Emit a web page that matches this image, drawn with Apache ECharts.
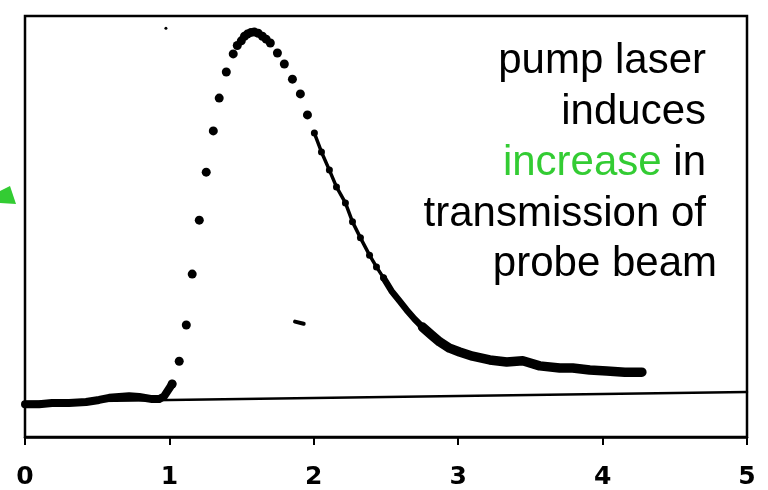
<!DOCTYPE html>
<html>
<head>
<meta charset="utf-8">
<script src="https://cdn.jsdelivr.net/npm/echarts@6/dist/echarts.min.js"></script>
<style>
  html, body { margin: 0; padding: 0; background: #fff; }
  #chart { width: 768px; height: 490px; }
</style>
</head>
<body>
<div id="chart"></div>
<script>
// delay axis ticks
const xTicks = [0, 1, 2, 3, 4, 5];

// probe signal before the pump arrives
const baseX = [0, 0.097, 0.187, 0.305, 0.423, 0.513, 0.583, 0.652, 0.721, 0.791, 0.881, 0.929, 0.964, 1.019];
const baseY = [7.8, 7.8, 8.1, 8.1, 8.3, 8.8, 9.3, 9.5, 9.7, 9.5, 9.0, 9.0, 9.7, 12.6];

// sampled points through the rise and the peak
const dotX = [1.019, 1.068, 1.117, 1.158, 1.207, 1.255, 1.304, 1.345, 1.394, 1.442, 1.470, 1.498, 1.520, 1.540, 1.565, 1.588, 1.615, 1.644, 1.670, 1.699, 1.748, 1.796, 1.852, 1.907, 1.956];
const dotY = [12.6, 18.0, 26.6, 38.7, 51.5, 62.9, 72.7, 80.5, 86.7, 91.0, 93.0, 94.1, 95.2, 95.7, 96.1, 96.2, 95.9, 95.2, 94.5, 93.6, 91.2, 88.6, 85.0, 81.5, 76.5];

// recovery of the transmission after the peak
const decayX = [2.004, 2.053, 2.108, 2.157, 2.219, 2.268, 2.323, 2.386, 2.434, 2.483, 2.538, 2.594, 2.642, 2.698, 2.753, 2.816, 2.871, 2.940, 3.010, 3.100, 3.218, 3.336, 3.447, 3.564, 3.703, 3.793, 3.911, 4.029, 4.154, 4.272];
const decayY = [72.2, 67.7, 63.4, 59.4, 55.6, 51.1, 47.3, 43.2, 40.4, 37.8, 34.7, 32.3, 30.2, 28.0, 26.1, 24.2, 22.6, 21.1, 20.2, 19.2, 18.3, 17.8, 18.1, 16.9, 16.4, 16.4, 15.9, 15.7, 15.4, 15.4];

// zero-signal reference level
const refX = [0, 5];
const refY = [8.3, 10.7];

// stray mark and speck on the trace
const strayX = [1.87, 1.93];
const strayY = [27.4, 26.9];
const speckX = [0.976];
const speckY = [97.1];

const noteLines = ['pump laser', 'induces', 'increase', ' in', 'transmission of', 'probe beam'];

const INK = '#000';
const GREEN = '#33cc33';

const pairs = (xs, ys, a, b) => xs.slice(a, b).map((x, i) => [x, ys.slice(a, b)[i]]);

const chart = echarts.init(document.getElementById('chart'), null, { renderer: 'canvas' });

const lineSeries = (data, width, extra) => Object.assign({
  type: 'line',
  data: data,
  showSymbol: false,
  symbol: 'none',
  silent: true,
  animation: false,
  lineStyle: { color: INK, width: width, cap: 'round', join: 'round', opacity: 1 }
}, extra || {});

const noteFont = '"Liberation Sans", Arial, sans-serif';
const noteText = (text, x, y, extra) => ({
  type: 'text',
  silent: true,
  z: 100,
  style: Object.assign({
    text: text,
    x: x,
    y: y,
    fill: INK,
    fontSize: 42,
    fontFamily: noteFont,
    align: 'right',
    verticalAlign: 'middle'
  }, extra || {})
});

chart.setOption({
  animation: false,
  backgroundColor: '#fff',
  grid: {
    left: 25, right: 21, top: 16, bottom: 53,
    show: true, borderColor: INK, borderWidth: 2.5, backgroundColor: 'transparent'
  },
  xAxis: {
    type: 'value',
    min: xTicks[0], max: xTicks[xTicks.length - 1], interval: 1,
    axisLine: { show: true, lineStyle: { color: INK, width: 2.5 } },
    axisTick: { show: true, inside: false, length: 8, lineStyle: { color: INK, width: 2 } },
    axisLabel: {
      color: INK, fontSize: 25, fontWeight: 'bold', fontFamily: '"DejaVu Sans", sans-serif', margin: 28,
      formatter: v => String(v)
    },
    splitLine: { show: false }
  },
  yAxis: {
    type: 'value', min: 0, max: 100,
    axisLine: { show: false }, axisTick: { show: false }, axisLabel: { show: false },
    splitLine: { show: false }
  },
  series: [
    lineSeries(pairs(refX, refY), 2.5),
    lineSeries(pairs(baseX, baseY), 8),
    lineSeries(pairs(decayX, decayY, 0, 10), 3.5, {
      showSymbol: true, symbol: 'circle', symbolSize: 7, itemStyle: { color: INK, opacity: 1 }
    }),
    lineSeries(pairs(decayX, decayY, 9, 15), 6.5),
    lineSeries(pairs(decayX, decayY, 14), 9.5),
    {
      type: 'scatter', silent: true, animation: false,
      data: pairs(dotX, dotY), symbol: 'circle', symbolSize: 9,
      itemStyle: { color: INK, opacity: 1 }
    },
    lineSeries(pairs(strayX, strayY), 4),
    {
      type: 'scatter', silent: true, animation: false,
      data: pairs(speckX, speckY), symbol: 'circle', symbolSize: 3,
      itemStyle: { color: INK, opacity: 1 }
    }
  ],
  graphic: [
    noteText(noteLines[0], 706, 61),
    noteText(noteLines[1], 706, 112),
    noteText('{g|' + noteLines[2] + '}' + noteLines[3], 706, 163, {
      rich: { g: { fill: GREEN, fontSize: 42, fontFamily: noteFont } }
    }),
    noteText(noteLines[4], 706, 214),
    noteText(noteLines[5], 717, 264),
    {
      type: 'polygon', silent: true, z: 100,
      shape: { points: [[0, 191], [10, 186], [16, 204], [0, 203]] },
      style: { fill: GREEN }
    }
  ]
});
</script>
</body>
</html>
